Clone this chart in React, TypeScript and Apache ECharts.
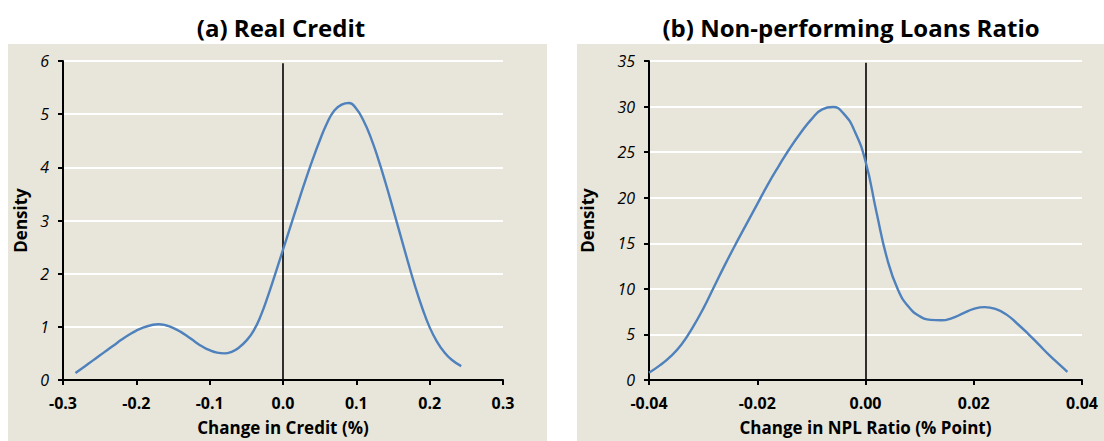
import React, { useEffect, useRef } from "react";
import * as echarts from "echarts";

const creditX = [-0.283, -0.27, -0.26, -0.25, -0.24, -0.23, -0.22, -0.21, -0.2, -0.19, -0.18, -0.17, -0.16, -0.15, -0.14, -0.13, -0.12, -0.11, -0.1, -0.09, -0.08, -0.07, -0.06, -0.05, -0.04, -0.03, -0.02, -0.01, 0, 0.01, 0.02, 0.03, 0.04, 0.05, 0.06, 0.07, 0.08, 0.09, 0.1, 0.11, 0.12, 0.13, 0.14, 0.15, 0.16, 0.17, 0.18, 0.19, 0.2, 0.21, 0.22, 0.23, 0.243];
const creditY = [0.13, 0.26, 0.36, 0.46, 0.56, 0.66, 0.76, 0.85, 0.93, 0.99, 1.03, 1.05, 1.03, 0.98, 0.91, 0.82, 0.72, 0.63, 0.56, 0.515, 0.5, 0.53, 0.61, 0.74, 0.93, 1.22, 1.6, 2.02, 2.45, 2.88, 3.31, 3.73, 4.13, 4.5, 4.83, 5.07, 5.18, 5.21, 5.1, 4.87, 4.55, 4.15, 3.7, 3.22, 2.73, 2.24, 1.77, 1.35, 0.99, 0.72, 0.52, 0.38, 0.26];

const nplX = [-0.04, -0.038, -0.036, -0.034, -0.032, -0.03, -0.028, -0.026, -0.024, -0.022, -0.02, -0.018, -0.016, -0.014, -0.012, -0.01, -0.008, -0.006, -0.004, -0.002, 0, 0.002, 0.004, 0.006, 0.008, 0.01, 0.012, 0.014, 0.016, 0.018, 0.02, 0.022, 0.024, 0.026, 0.028, 0.03, 0.032, 0.034, 0.036, 0.0373];
const nplY = [0.8, 1.6, 2.6, 3.9, 5.7, 7.8, 10.2, 12.6, 14.9, 17.1, 19.3, 21.5, 23.5, 25.4, 27.1, 28.6, 29.7, 29.95, 29.2, 27.3, 24.0, 18.5, 13.3, 9.9, 8.0, 7.0, 6.6, 6.55, 6.8, 7.3, 7.8, 8.0, 7.8, 7.2, 6.2, 5.1, 3.9, 2.7, 1.6, 0.9];

const creditTicks = [-0.3, 0.3, 0.1];
const creditDensity = [0, 6, 1];
const nplTicks = [-0.04, 0.04, 0.02];
const nplDensity = [0, 35, 5];

const titles = ["(a) Real Credit", "(b) Non-performing Loans Ratio"];
const xNames = ["Change in Credit (%)", "Change in NPL Ratio (% Point)"];

const FONT = "Open Sans";
const BG = "#E8E6DA";
const LINE = "#4F81BD";

export default function App() {
  const ref = useRef<HTMLDivElement>(null);
  useEffect(() => {
    if (!ref.current) return;
    const chart = echarts.init(ref.current, undefined, { renderer: "svg" });
    const mkX = (ticks: number[], dec: number, name: string, idx: number) => ({
      type: "value",
      gridIndex: idx,
      min: ticks[0],
      max: ticks[1],
      interval: ticks[2],
      name,
      nameLocation: "middle",
      nameGap: 39,
      nameTextStyle: { fontFamily: FONT, fontWeight: "bold", fontSize: 17, color: "#000" },
      axisLine: { show: true, onZero: false, lineStyle: { color: "#000", width: 2 } },
      axisTick: { show: true, length: 5, lineStyle: { color: "#000", width: 2 } },
      axisLabel: {
        fontFamily: FONT,
        fontWeight: "bold",
        fontSize: 16,
        color: "#000",
        margin: 15,
        formatter: (v: number) => v.toFixed(dec),
      },
      splitLine: { show: false },
    });
    const mkY = (ticks: number[], idx: number, gap: number) => ({
      type: "value",
      gridIndex: idx,
      min: ticks[0],
      max: ticks[1],
      interval: ticks[2],
      name: "Density",
      nameLocation: "middle",
      nameGap: gap,
      nameTextStyle: { fontFamily: FONT, fontWeight: "bold", fontSize: 17, color: "#000" },
      axisLine: { show: true, onZero: false, lineStyle: { color: "#000", width: 2 } },
      axisTick: { show: true, length: 5, lineStyle: { color: "#000", width: 2 } },
      axisLabel: { fontFamily: FONT, fontStyle: "italic", fontSize: 16, color: "#000", margin: 14 },
      splitLine: { show: true, lineStyle: { color: "#FFFFFF", width: 2 } },
    });
    const mkSeries = (xs: number[], ys: number[], idx: number, top: number) => ({
      type: "line",
      xAxisIndex: idx,
      yAxisIndex: idx,
      data: xs.map((x, i) => [x, ys[i]]),
      smooth: 0.5,
      showSymbol: false,
      symbol: "none",
      lineStyle: { color: LINE, width: 2.4 },
      markLine: {
        silent: true,
        symbol: "none",
        z: 10,
        label: { show: false },
        lineStyle: { color: "#000", width: 1.6, type: "solid" },
        data: [[{ coord: [0, 0] }, { coord: [0, top] }]],
      },
      z: 10,
    });
    chart.setOption({
      animation: false,
      graphic: [
        { type: "rect", shape: { x: 8, y: 44, width: 539, height: 400 }, style: { fill: BG }, z: -10 },
        { type: "rect", shape: { x: 577, y: 44, width: 530, height: 400 }, style: { fill: BG }, z: -10 },
      ],
      title: [
        {
          text: titles[0],
          left: 276,
          top: 10,
          textAlign: "center",
          textStyle: { fontFamily: FONT, fontWeight: "bold", fontSize: 24, color: "#000" },
        },
        {
          text: titles[1],
          left: 846,
          top: 10,
          textAlign: "center",
          textStyle: { fontFamily: FONT, fontWeight: "bold", fontSize: 24, color: "#000" },
        },
      ],
      grid: [
        { left: 63, top: 61, width: 440, height: 322 },
        { left: 649, top: 61, width: 433, height: 324 },
      ],
      xAxis: [mkX(creditTicks, 1, xNames[0], 0), mkX(nplTicks, 2, xNames[1], 1)],
      yAxis: [mkY(creditDensity, 0, 34), mkY(nplDensity, 1, 53)],
      series: [mkSeries(creditX, creditY, 0, 5.96), mkSeries(nplX, nplY, 1, 34.8)],
    });
    return () => chart.dispose();
  }, []);
  return <div ref={ref} style={{ width: 1104, height: 441, position: "absolute", left: 0, top: 0 }} />;
}
